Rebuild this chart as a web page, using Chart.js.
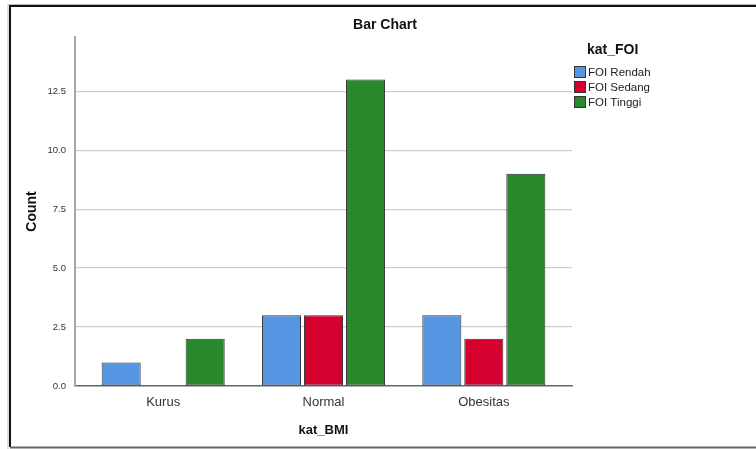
<!DOCTYPE html>
<html>
<head>
<meta charset="utf-8">
<script src="https://cdn.jsdelivr.net/npm/chart.js@4.4.1/dist/chart.umd.min.js"></script>
<style>
  html, body { margin: 0; padding: 0; background: #fff; }
  #wrap { width: 756px; height: 449px; position: relative; }
</style>
</head>
<body>
<div id="wrap"><canvas id="chart" width="756" height="449"></canvas></div>
<script>
const categories = ["Kurus", "Normal", "Obesitas"];
const seriesNames = ["FOI Rendah", "FOI Sedang", "FOI Tinggi"];
const rendah = [1, 3, 3];
const sedang = [0, 3, 2];
const tinggi = [2, 13, 9];
const colors = ["#5796e2", "#d6002f", "#2a882c"];
const FONT = "'Liberation Sans', Arial, sans-serif";

// title, legend and outer frame like the SPSS output window
const decor = {
    id: "decor",
    afterDraw(chart) {
        const c = chart.ctx;
        c.save();
        c.fillStyle = "#111";
        c.textBaseline = "middle";
        c.textAlign = "center";
        c.font = "bold 14px " + FONT;
        c.fillText("Bar Chart", 385, 25);

        c.textAlign = "left";
        c.font = "bold 14px " + FONT;
        c.fillText("kat_FOI", 587, 50);
        c.font = "11.5px " + FONT;
        chart.data.datasets.forEach((ds, i) => {
            const y = 72 + i * 15;
            c.fillStyle = ds.backgroundColor;
            c.fillRect(574.5, y - 5.5, 11, 11);
            c.strokeStyle = "#333";
            c.lineWidth = 1;
            c.strokeRect(574.5, y - 5.5, 11, 11);
            c.fillStyle = "#222";
            c.fillText(ds.label, 588, y + 0.5);
        });

        // frame
        c.strokeStyle = "#bbb";
        c.lineWidth = 1;
        c.beginPath();
        c.moveTo(8, 449); c.lineTo(8, 4.5); c.lineTo(756, 4.5);
        c.stroke();
        c.strokeStyle = "#111";
        c.lineWidth = 2;
        c.beginPath();
        c.moveTo(10, 447); c.lineTo(10, 6); c.lineTo(756, 6);
        c.stroke();
        c.strokeStyle = "#666";
        c.lineWidth = 2;
        c.beginPath();
        c.moveTo(10, 447.5); c.lineTo(756, 447.5);
        c.stroke();
        c.restore();
    }
};

const values = [rendah, sedang, tinggi];

new Chart(document.getElementById("chart"), {
    type: "bar",
    data: {
        datasets: seriesNames.map((name, i) => ({
            label: name,
            data: values[i].map((v, k) => ({ x: k, y: v })),
            backgroundColor: colors[i],
            borderColor: "#333",
            borderWidth: 1,
            borderSkipped: false,
            categoryPercentage: 0.786,
            barPercentage: 0.93,
        })),
    },
    options: {
        responsive: false,
        animation: false,
        layout: { padding: { left: 15, right: 184, top: 37, bottom: 0 } },
        plugins: {
            legend: { display: false },
            title: { display: false },
            tooltip: { enabled: false },
        },
        scales: {
            x: {
                type: "linear",
                offset: false,
                min: -0.55,
                max: 2.55,
                grid: { display: false, drawTicks: false },
                border: { color: "#666", width: 1.5 },
                ticks: {
                    stepSize: 1,
                    includeBounds: false,
                    color: "#333",
                    font: { family: FONT, size: 13 },
                    padding: 9,
                    callback: (v) => categories[v],
                },
                title: {
                    display: true, text: "kat_BMI", color: "#111",
                    font: { family: FONT, size: 13, weight: "bold" },
                    padding: { top: 0, bottom: 11 },
                },
                afterFit(scale) { scale.height = 63; },
            },
            y: {
                min: 0,
                max: 14.8,
                grid: {
                    drawTicks: false,
                    color: (ctx) => ctx.tick && ctx.tick.value === 0 ? "rgba(0,0,0,0)" : "#cfcfcf",
                    lineWidth: 1.2,
                },
                border: { color: "#a8a8a8", width: 2 },
                ticks: {
                    stepSize: 2.5,
                    includeBounds: false,
                    color: "#333",
                    font: { family: FONT, size: 9.5 },
                    padding: 9,
                    callback: (v) => v.toFixed(1),
                },
                title: {
                    display: true, text: "Count", color: "#111",
                    font: { family: FONT, size: 14, weight: "bold" },
                    padding: { top: 9, bottom: 0 },
                },
                afterFit(scale) { scale.width = 60; },
            },
        },
    },
    plugins: [decor],
});
</script>
</body>
</html>
